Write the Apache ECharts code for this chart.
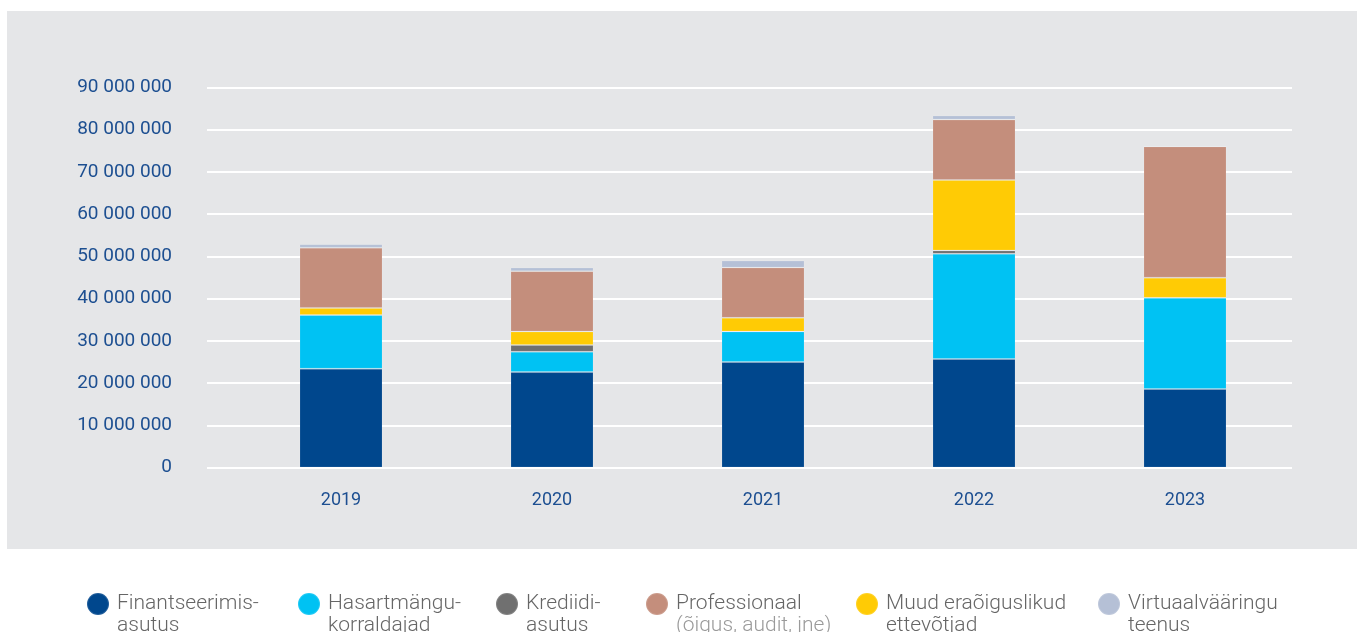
<!DOCTYPE html>
<html>
<head>
<meta charset="utf-8">
<script src="https://cdn.jsdelivr.net/npm/echarts@6/dist/echarts.min.js"></script>
<style>
  html, body { margin: 0; padding: 0; background: #ffffff; }
  #wrap { position: relative; width: 1357px; height: 632px; overflow: hidden; }
  #panel { position: absolute; left: 7px; top: 11px; width: 1350px; height: 538px; background: #e5e6e8; }
  #chart { position: absolute; left: 0; top: 0; width: 1357px; height: 632px; }
</style>
</head>
<body>
<div id="wrap">
  <div id="panel"></div>
  <div id="chart"></div>
</div>
<script>
// Years on the category axis
const years = ['2019', '2020', '2021', '2022', '2023'];

// Values per reporting group (stacked bottom to top)
const finantseerimisasutus = [23400000, 22600000, 25000000, 25700000, 18600000];
const hasartmangukorraldajad = [12700000, 4800000, 7200000, 24900000, 21600000];
const krediidiasutus = [0, 1600000, 0, 800000, 0];
const muudEraoiguslikud = [1700000, 3200000, 3250000, 16700000, 4750000];
const professionaal = [14250000, 14300000, 11900000, 14300000, 31100000];
const virtuaalvaaringu = [850000, 850000, 1650000, 950000, 0];

// Value axis ticks
const yTickLabels = ['0', '10 000 000', '20 000 000', '30 000 000', '40 000 000',
  '50 000 000', '60 000 000', '70 000 000', '80 000 000', '90 000 000'];

const seriesDefs = [
  { name: 'Finantseerimisasutus', data: finantseerimisasutus, color: '#00478d' },
  { name: 'Hasartmängukorraldajad', data: hasartmangukorraldajad, color: '#00c2f3' },
  { name: 'Krediidiasutus', data: krediidiasutus, color: '#707070' },
  { name: 'Muud eraõiguslikud ettevõtjad', data: muudEraoiguslikud, color: '#ffcb05' },
  { name: 'Professionaal', data: professionaal, color: '#c48e7c' },
  { name: 'Virtuaalvääringu teenus', data: virtuaalvaaringu, color: '#b5c0d6' }
];

// Legend entries in display order, with their two text lines
const legendItems = [
  { name: 'Finantseerimisasutus', lines: ['Finantseerimis-', 'asutus'], left: 86 },
  { name: 'Hasartmängukorraldajad', lines: ['Hasartmängu-', 'korraldajad'], left: 297 },
  { name: 'Krediidiasutus', lines: ['Krediidi-', 'asutus'], left: 495 },
  { name: 'Professionaal', lines: ['Professionaal', '(õigus, audit, jne)'], left: 645, sub: true },
  { name: 'Muud eraõiguslikud ettevõtjad', lines: ['Muud eraõiguslikud', 'ettevõtjad'], left: 855 },
  { name: 'Virtuaalvääringu teenus', lines: ['Virtuaalvääringu', 'teenus'], left: 1097 }
];

const chart = echarts.init(document.getElementById('chart'), null, { renderer: 'canvas' });

const axisFont = 'Roboto, "Noto Sans", sans-serif';
const labelBlue = '#1d4f91';

const legends = legendItems.map(function (it) {
  return {
    data: [it.name],
    left: it.left,
    top: 592,
    padding: 0,
    selectedMode: false,
    icon: 'circle',
    itemWidth: 22,
    itemHeight: 22,
    itemGap: 0,
    formatter: function () {
      return '{t|' + it.lines[0] + '}\n{' + (it.sub ? 's' : 't') + '|' + it.lines[1] + '}';
    },
    textStyle: {
      padding: [22, 0, 0, 3],
      rich: {
        t: { fontFamily: axisFont, fontSize: 21, fontWeight: 300, color: '#666666', lineHeight: 22 },
        s: { fontFamily: axisFont, fontSize: 21, fontWeight: 300, color: '#9a9a9a', lineHeight: 22 }
      }
    }
  };
});

const option = {
  animation: false,
  legend: legends,
  grid: [
    { left: 207, right: 65, top: 87.5, bottom: 164.5 },
    { left: 235.5, right: 66.5, top: 87.5, bottom: 164.5 }
  ],
  xAxis: [
    { type: 'value', gridIndex: 0, show: false, min: 0, max: 1 },
    {
      type: 'category', gridIndex: 1, data: years,
      axisLine: { show: false }, axisTick: { show: false },
      axisLabel: { color: labelBlue, fontFamily: axisFont, fontSize: 18, margin: 24 }
    }
  ],
  yAxis: [
    {
      type: 'value', gridIndex: 0, min: 0, max: 90000000, interval: 10000000,
      axisLine: { show: false }, axisTick: { show: false },
      axisLabel: {
        color: labelBlue, fontFamily: axisFont, fontSize: 19, margin: 35,
        formatter: function (v, i) { return yTickLabels[i]; }
      },
      splitLine: { lineStyle: { color: '#ffffff', width: 2 } }
    },
    {
      type: 'value', gridIndex: 1, min: 0, max: 90000000, interval: 10000000,
      show: false, splitLine: { show: false }
    }
  ],
  series: seriesDefs.map(function (s) {
    return {
      name: s.name,
      type: 'bar',
      stack: 'total',
      xAxisIndex: 1,
      yAxisIndex: 1,
      barWidth: 83,
      data: s.data,
      itemStyle: { color: s.color, borderColor: 'rgba(255,255,255,0.12)', borderWidth: 1 }
    };
  })
};

chart.setOption(option);
</script>
</body>
</html>
